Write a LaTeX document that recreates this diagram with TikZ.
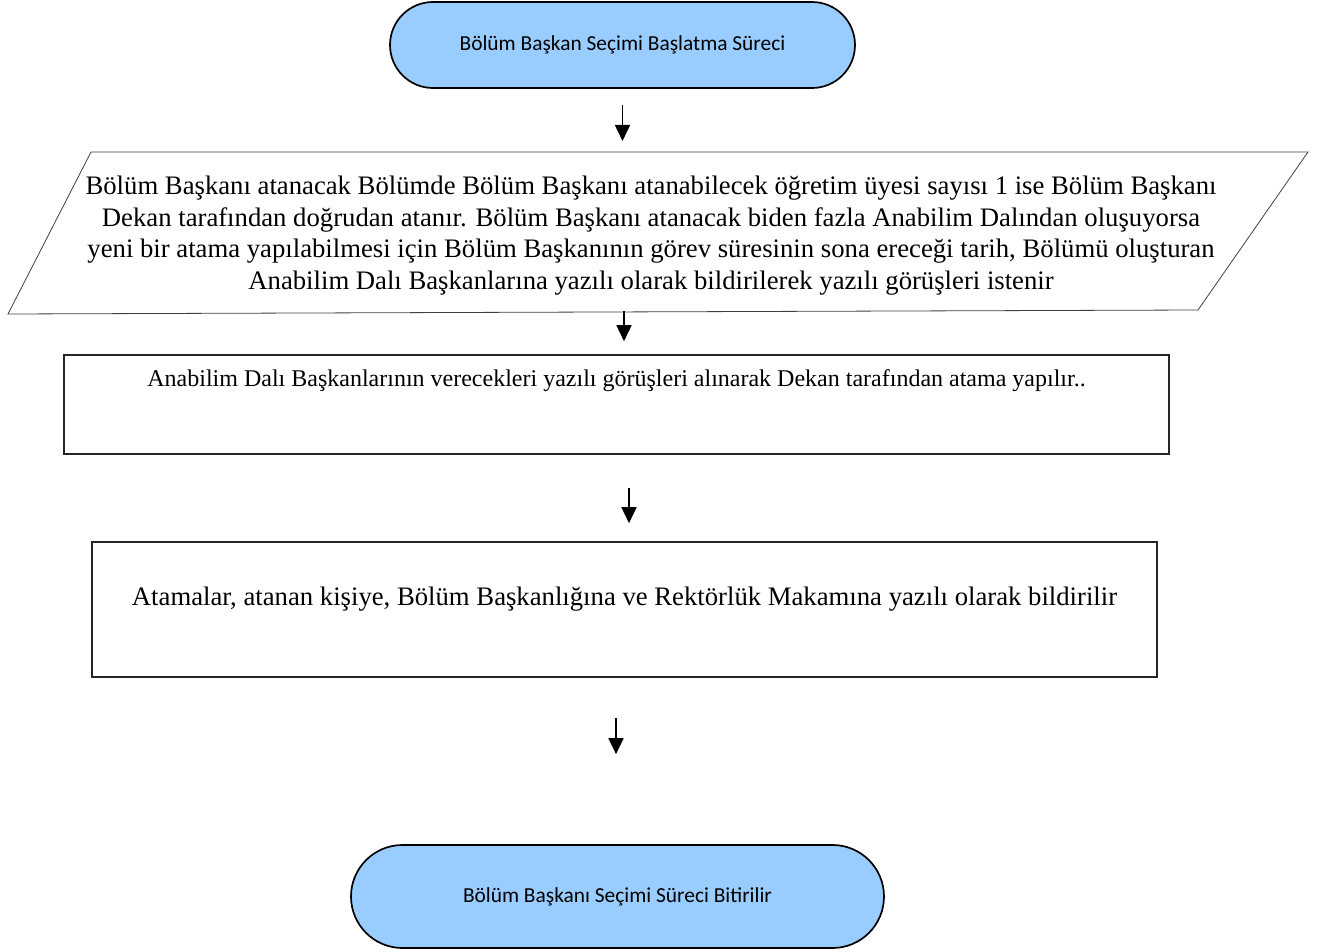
\documentclass[tikz,border=0pt]{standalone}
\usepackage{fontspec}
\setmainfont{Liberation Serif}
\newfontfamily\calibrifont{Carlito}
\usetikzlibrary{%
	positioning,
	calc,
	arrows.meta,
	shapes.misc
}
\definecolor{termblue}{RGB}{153,204,255}

\begin{document}
\begin{tikzpicture}[x=1pt,y=-1pt,
		terminal/.style={draw,line width=1.7pt,shape=rounded rectangle,fill=termblue,font=\calibrifont\fontsize{21.4}{25}\selectfont,inner sep=0pt},
		process/.style={draw,line width=1.6pt,draw=black!85,shape=rectangle,inner sep=0pt},
		inputtext/.style={align=center,font=\fontsize{26.7}{31.5}\selectfont,inner sep=0pt},
		outline/.style={draw=black!75,line width=0.8pt},
		flow/.style={-{Triangle[length=16pt,width=15pt]},line width=1.6pt}
	]
	
	\useasboundingbox (0,0) rectangle (1328,952);
	
	\node(start) [terminal, minimum width=465pt, minimum height=86pt] at (622.5,45) {Bölüm Başkan Seçimi Başlatma Süreci};
	
	%parallelogram
	\node(input) [inputtext] at (651,235.5) {Bölüm Başkanı atanacak Bölümde Bölüm Başkanı atanabilecek öğretim üyesi sayısı 1 ise Bölüm Başkanı\\
		Dekan tarafından doğrudan atanır. Bölüm Başkanı atanacak biden fazla Anabilim Dalından oluşuyorsa\\
		yeni bir atama yapılabilmesi için Bölüm Başkanının görev süresinin sona ereceği tarih, Bölümü oluşturan\\
		Anabilim Dalı Başkanlarına yazılı olarak bildirilerek yazılı görüşleri istenir};
	\draw[outline] (8,314) -- (91,152) -- (1308,152) -- (1198,310) -- cycle;
	\coordinate (input-n) at (622.5,152);
	\coordinate (input-s) at (624,311);
	
	\node(dekan) [process, minimum width=1105pt, minimum height=99pt, font=\fontsize{24}{28}\selectfont, text height=16pt, text depth=52pt] at (616.5,404.5) {Anabilim Dalı Başkanlarının verecekleri yazılı görüşleri alınarak Dekan tarafından atama yapılır..};
	
	\node(bildiri) [process, minimum width=1065pt, minimum height=135pt, font=\fontsize{26.7}{31}\selectfont, text height=21pt, text depth=30pt] at (624.5,609.5) {Atamalar, atanan kişiye, Bölüm Başkanlığına ve Rektörlük Makamına yazılı olarak bildirilir};
	
	\node(end) [terminal, minimum width=533pt, minimum height=103pt] at (617.5,896.5) {Bölüm Başkanı Seçimi Süreci Bitirilir};
	
	\draw[flow, shorten <=16pt, shorten >=11pt] (start.south) -- (input-n);
	\draw[flow, shorten >=13pt] (input-s) -- (input-s |- dekan.north);
	\draw[flow, shorten <=33pt, shorten >=18pt] ([xshift=12.5pt]dekan.south) -- ([xshift=12.5pt]dekan.south |- bildiri.north);
	\draw[flow, shorten <=40pt, shorten >=90pt] ([xshift=-8.5pt]bildiri.south) -- ([xshift=-8.5pt]bildiri.south |- end.north);
	
\end{tikzpicture}
\end{document}
